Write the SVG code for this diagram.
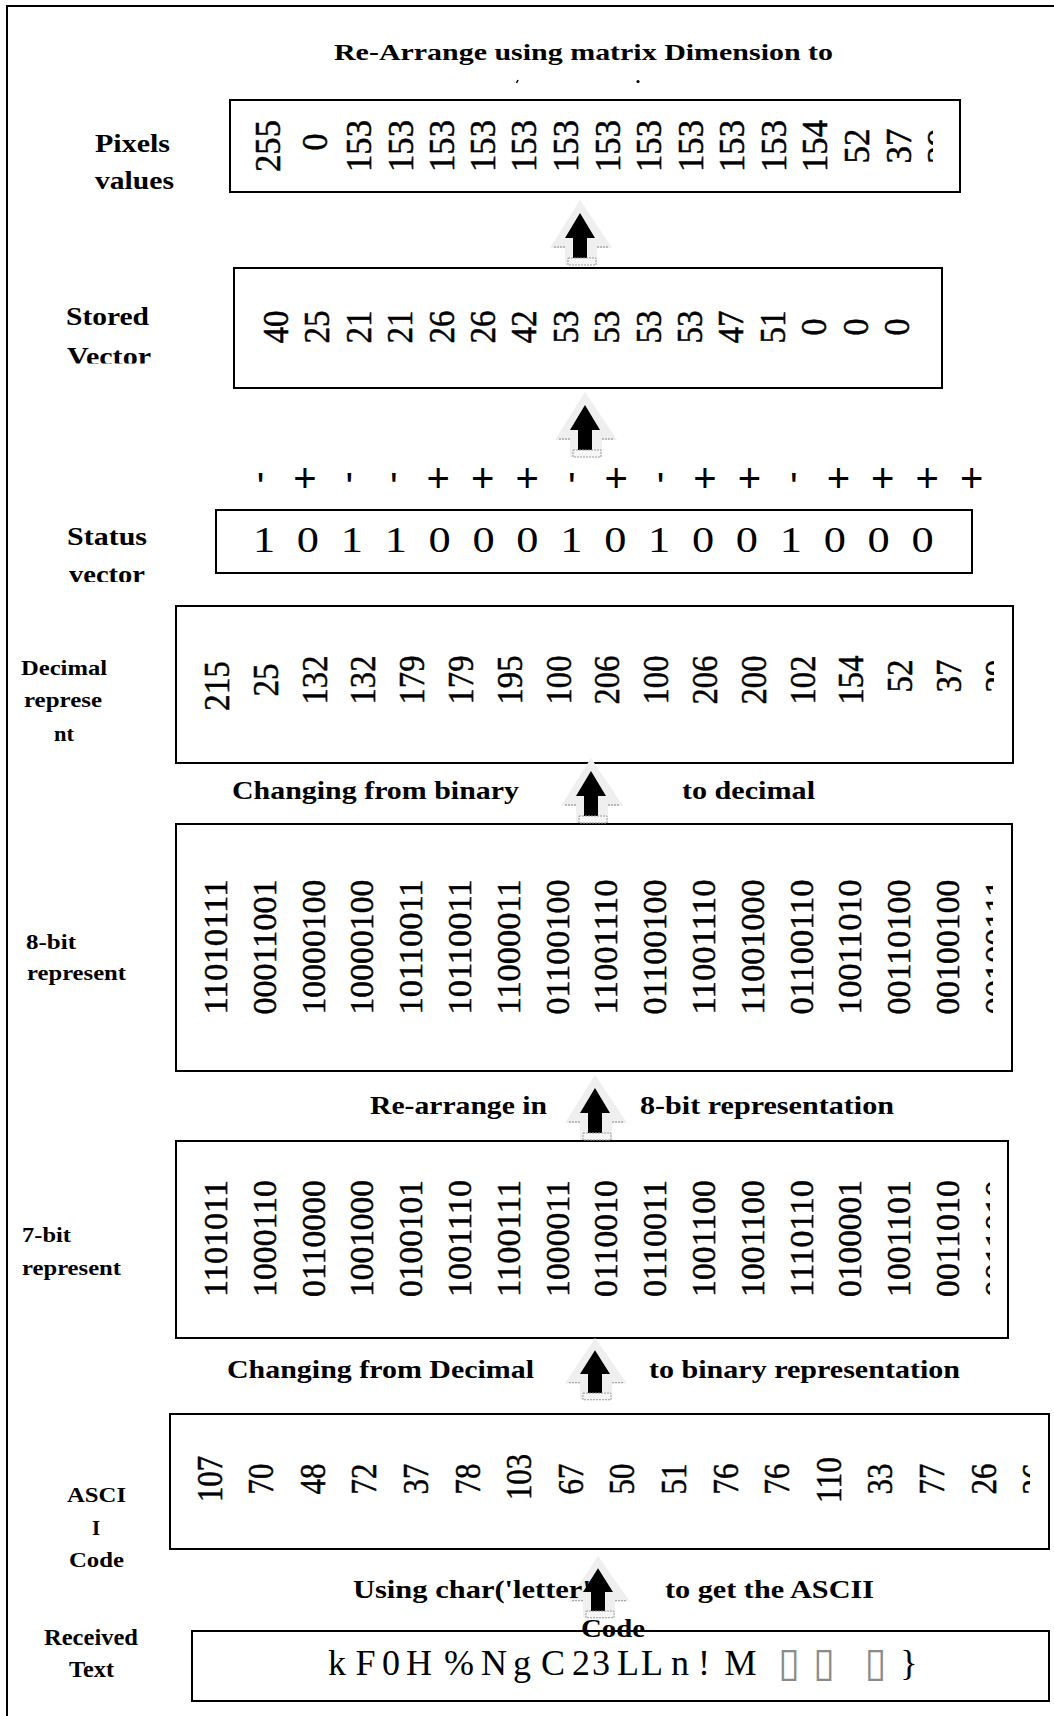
<svg xmlns="http://www.w3.org/2000/svg" xmlns:xlink="http://www.w3.org/1999/xlink" width="1054" height="1716" viewBox="0 0 1054 1716">
<style>
.box{fill:#fff;stroke:#000;stroke-width:2}
.lbl{font-family:"Liberation Serif","Times New Roman",serif;font-weight:bold;fill:#000}
.l25{font-size:25px}
.l22{font-size:22px}
.num{font-family:"Liberation Serif","Times New Roman",serif;font-size:35px;text-anchor:middle;fill:#000;stroke:#000;stroke-width:0.5}
.bin{font-family:"Liberation Serif","Times New Roman",serif;font-size:34px;text-anchor:middle;fill:#000;stroke:#000;stroke-width:0.5}
.sign{font-family:"Liberation Sans",Arial,sans-serif;font-size:40px;text-anchor:middle;fill:#000}
</style>
<defs>
<g id="arrow">
<path d="M0,0 L32,48 L17,48 L17,65 L-15,65 L-15,48 L-30,48 Z" fill="#efefef"/>
<path d="M0,13 L15,38 L7,38 L7,58 L-7,58 L-7,38 L-15,38 Z" fill="#000"/>
<rect x="-12" y="58" width="28" height="7" fill="#f6f6f6" stroke="#999" stroke-width="1" stroke-dasharray="2,1"/>
<path d="M-26,47 H-15 M17,47 H28" stroke="#aaa" stroke-width="1.5" stroke-dasharray="2,1"/>
</g>
<clipPath id="cpPix"><rect x="0" y="0" width="933" height="1716"/></clipPath>
<clipPath id="cpDec"><rect x="0" y="0" width="994" height="1716"/></clipPath>
<clipPath id="cp8"><rect x="0" y="0" width="993" height="1716"/></clipPath>
<clipPath id="cp7"><rect x="0" y="0" width="990" height="1716"/></clipPath>
<clipPath id="cpAsc"><rect x="0" y="0" width="1030" height="1716"/></clipPath>
<clipPath id="cpVec1"><rect x="0" y="0" width="1054" height="363.5"/></clipPath>
<clipPath id="cpVec2"><rect x="0" y="0" width="1054" height="582"/></clipPath>
</defs>
<rect x="7" y="6" width="1200" height="1800" fill="#fff" stroke="#000" stroke-width="2"/>

<g id="title">
<text class="lbl" x="334" y="60" font-size="23" textLength="499" lengthAdjust="spacingAndGlyphs">Re-Arrange using matrix Dimension to</text>
<path d="M516.5,83 L518,80" stroke="#000" stroke-width="1.5"/>
<circle cx="638" cy="81.5" r="1.6" fill="#000"/>
</g>

<g id="pixels">
<rect class="box" x="230" y="100" width="730" height="92"/>
<text class="lbl l25" x="95" y="152" textLength="75" lengthAdjust="spacingAndGlyphs">Pixels</text>
<text class="lbl l25" x="95" y="189" textLength="79" lengthAdjust="spacingAndGlyphs">values</text>
<g clip-path="url(#cpPix)">
<text class="num" transform="translate(279.5,146) rotate(-90)" textLength="52" lengthAdjust="spacingAndGlyphs">255</text>
<text class="num" transform="translate(326.5,142) rotate(-90)" textLength="17" lengthAdjust="spacingAndGlyphs">0</text>
<text class="num" transform="translate(370.5,146) rotate(-90)" textLength="52" lengthAdjust="spacingAndGlyphs">153</text>
<text class="num" transform="translate(412.5,146) rotate(-90)" textLength="52" lengthAdjust="spacingAndGlyphs">153</text>
<text class="num" transform="translate(453.5,146) rotate(-90)" textLength="52" lengthAdjust="spacingAndGlyphs">153</text>
<text class="num" transform="translate(494.5,146) rotate(-90)" textLength="52" lengthAdjust="spacingAndGlyphs">153</text>
<text class="num" transform="translate(535.5,146) rotate(-90)" textLength="52" lengthAdjust="spacingAndGlyphs">153</text>
<text class="num" transform="translate(577.5,146) rotate(-90)" textLength="52" lengthAdjust="spacingAndGlyphs">153</text>
<text class="num" transform="translate(619.5,146) rotate(-90)" textLength="52" lengthAdjust="spacingAndGlyphs">153</text>
<text class="num" transform="translate(660.5,146) rotate(-90)" textLength="52" lengthAdjust="spacingAndGlyphs">153</text>
<text class="num" transform="translate(702.5,146) rotate(-90)" textLength="52" lengthAdjust="spacingAndGlyphs">153</text>
<text class="num" transform="translate(743.5,146) rotate(-90)" textLength="52" lengthAdjust="spacingAndGlyphs">153</text>
<text class="num" transform="translate(785.5,146) rotate(-90)" textLength="52" lengthAdjust="spacingAndGlyphs">153</text>
<text class="num" transform="translate(826.5,146) rotate(-90)" textLength="52" lengthAdjust="spacingAndGlyphs">154</text>
<text class="num" transform="translate(868.5,146) rotate(-90)" textLength="35" lengthAdjust="spacingAndGlyphs">52</text>
<text class="num" transform="translate(910.5,146) rotate(-90)" textLength="35" lengthAdjust="spacingAndGlyphs">37</text>
<text class="num" transform="translate(951.5,146) rotate(-90)" textLength="35" lengthAdjust="spacingAndGlyphs">39</text>
</g>
</g>

<g id="stored">
<rect class="box" x="234" y="268" width="708" height="120"/>
<text class="lbl l25" x="66" y="325" textLength="83" lengthAdjust="spacingAndGlyphs">Stored</text>
<text class="lbl l25" x="67" y="365" textLength="84" lengthAdjust="spacingAndGlyphs" clip-path="url(#cpVec1)">Vector</text>
<text class="num" transform="translate(287.5,327) rotate(-90)" textLength="33" lengthAdjust="spacingAndGlyphs">40</text>
<text class="num" transform="translate(328.5,327) rotate(-90)" textLength="33" lengthAdjust="spacingAndGlyphs">25</text>
<text class="num" transform="translate(370.5,327) rotate(-90)" textLength="33" lengthAdjust="spacingAndGlyphs">21</text>
<text class="num" transform="translate(411.5,327) rotate(-90)" textLength="33" lengthAdjust="spacingAndGlyphs">21</text>
<text class="num" transform="translate(453.5,327) rotate(-90)" textLength="33" lengthAdjust="spacingAndGlyphs">26</text>
<text class="num" transform="translate(494.5,327) rotate(-90)" textLength="33" lengthAdjust="spacingAndGlyphs">26</text>
<text class="num" transform="translate(535.5,327) rotate(-90)" textLength="33" lengthAdjust="spacingAndGlyphs">42</text>
<text class="num" transform="translate(577.5,327) rotate(-90)" textLength="33" lengthAdjust="spacingAndGlyphs">53</text>
<text class="num" transform="translate(618.5,327) rotate(-90)" textLength="33" lengthAdjust="spacingAndGlyphs">53</text>
<text class="num" transform="translate(660.5,327) rotate(-90)" textLength="33" lengthAdjust="spacingAndGlyphs">53</text>
<text class="num" transform="translate(701.5,327) rotate(-90)" textLength="33" lengthAdjust="spacingAndGlyphs">53</text>
<text class="num" transform="translate(742.5,327) rotate(-90)" textLength="33" lengthAdjust="spacingAndGlyphs">47</text>
<text class="num" transform="translate(784.5,327) rotate(-90)" textLength="33" lengthAdjust="spacingAndGlyphs">51</text>
<text class="num" transform="translate(825.5,327) rotate(-90)" textLength="17" lengthAdjust="spacingAndGlyphs">0</text>
<text class="num" transform="translate(867.5,327) rotate(-90)" textLength="17" lengthAdjust="spacingAndGlyphs">0</text>
<text class="num" transform="translate(908.5,327) rotate(-90)" textLength="17" lengthAdjust="spacingAndGlyphs">0</text>
</g>

<g id="signs">
<text class="sign"><tspan x="260.5" y="501">'</tspan><tspan x="305" y="492">+</tspan><tspan x="349.4" y="501">'</tspan><tspan x="393.9" y="501">'</tspan><tspan x="438.3" y="492">+</tspan><tspan x="482.8" y="492">+</tspan><tspan x="527.2" y="492">+</tspan><tspan x="571.7" y="501">'</tspan><tspan x="616.1" y="492">+</tspan><tspan x="660.6" y="501">'</tspan><tspan x="705" y="492">+</tspan><tspan x="749.5" y="492">+</tspan><tspan x="793.9" y="501">'</tspan><tspan x="838.4" y="492">+</tspan><tspan x="882.8" y="492">+</tspan><tspan x="927.3" y="492">+</tspan><tspan x="971.7" y="492">+</tspan></text>
</g>

<g id="status">
<rect class="box" x="216" y="510" width="756" height="63"/>
<text class="lbl l25" x="67" y="545" textLength="80" lengthAdjust="spacingAndGlyphs">Status</text>
<text class="lbl l25" x="69" y="583" textLength="76" lengthAdjust="spacingAndGlyphs" clip-path="url(#cpVec2)">vector</text>
<text transform="scale(1.25,1)" y="552" style="font-family:'Liberation Serif','Times New Roman',serif;font-size:35.5px;text-anchor:middle" x="211.2 228.75 246.3 263.85 281.4 299 316.6 334.15 351.7 369.25 386.8 404.35 421.9 439.45 457 474.6 492.2 509.75 527.3 544.85 562.4 579.95 597.5 615.05 632.6 650.2 667.8 685.35 702.9 720.45 738">1 0 1 1 0 0 0 1 0 1 0 0 1 0 0 0</text>
</g>

<g id="decimal">
<rect class="box" x="176" y="606" width="837" height="157"/>
<text class="lbl l22" x="21" y="675" textLength="86" lengthAdjust="spacingAndGlyphs">Decimal</text>
<text class="lbl l22" x="24" y="707" textLength="78" lengthAdjust="spacingAndGlyphs">represe</text>
<text class="lbl l22" x="54" y="741" textLength="20" lengthAdjust="spacingAndGlyphs">nt</text>
<g clip-path="url(#cpDec)">
<text class="num" transform="translate(228.5,686) rotate(-90)" textLength="50" lengthAdjust="spacingAndGlyphs">215</text>
<text class="num" transform="translate(277.5,680) rotate(-90)" textLength="33" lengthAdjust="spacingAndGlyphs">25</text>
<text class="num" transform="translate(326.5,680) rotate(-90)" textLength="49" lengthAdjust="spacingAndGlyphs">132</text>
<text class="num" transform="translate(374.5,680) rotate(-90)" textLength="49" lengthAdjust="spacingAndGlyphs">132</text>
<text class="num" transform="translate(423.5,680) rotate(-90)" textLength="49" lengthAdjust="spacingAndGlyphs">179</text>
<text class="num" transform="translate(472.5,680) rotate(-90)" textLength="49" lengthAdjust="spacingAndGlyphs">179</text>
<text class="num" transform="translate(521.5,680) rotate(-90)" textLength="49" lengthAdjust="spacingAndGlyphs">195</text>
<text class="num" transform="translate(570.5,680) rotate(-90)" textLength="49" lengthAdjust="spacingAndGlyphs">100</text>
<text class="num" transform="translate(618.5,680) rotate(-90)" textLength="49" lengthAdjust="spacingAndGlyphs">206</text>
<text class="num" transform="translate(667.5,680) rotate(-90)" textLength="49" lengthAdjust="spacingAndGlyphs">100</text>
<text class="num" transform="translate(716.5,680) rotate(-90)" textLength="49" lengthAdjust="spacingAndGlyphs">206</text>
<text class="num" transform="translate(765.5,680) rotate(-90)" textLength="49" lengthAdjust="spacingAndGlyphs">200</text>
<text class="num" transform="translate(814.5,680) rotate(-90)" textLength="49" lengthAdjust="spacingAndGlyphs">102</text>
<text class="num" transform="translate(862.5,680) rotate(-90)" textLength="49" lengthAdjust="spacingAndGlyphs">154</text>
<text class="num" transform="translate(911.5,676) rotate(-90)" textLength="33" lengthAdjust="spacingAndGlyphs">52</text>
<text class="num" transform="translate(960.5,676) rotate(-90)" textLength="33" lengthAdjust="spacingAndGlyphs">37</text>
<text class="num" transform="translate(1009.5,676) rotate(-90)" textLength="33" lengthAdjust="spacingAndGlyphs">39</text>
</g>
</g>

<g id="bit8">
<rect class="box" x="176" y="824" width="836" height="247"/>
<text class="lbl l22" x="26" y="949" textLength="50" lengthAdjust="spacingAndGlyphs">8-bit</text>
<text class="lbl l22" x="27" y="980" textLength="99" lengthAdjust="spacingAndGlyphs">represent</text>
<g clip-path="url(#cp8)">
<text class="bin" transform="translate(227,947) rotate(-90)" textLength="135" lengthAdjust="spacingAndGlyphs">11010111</text>
<text class="bin" transform="translate(275.8,947) rotate(-90)" textLength="135" lengthAdjust="spacingAndGlyphs">00011001</text>
<text class="bin" transform="translate(324.6,947) rotate(-90)" textLength="135" lengthAdjust="spacingAndGlyphs">10000100</text>
<text class="bin" transform="translate(373.4,947) rotate(-90)" textLength="135" lengthAdjust="spacingAndGlyphs">10000100</text>
<text class="bin" transform="translate(422.2,947) rotate(-90)" textLength="135" lengthAdjust="spacingAndGlyphs">10110011</text>
<text class="bin" transform="translate(471,947) rotate(-90)" textLength="135" lengthAdjust="spacingAndGlyphs">10110011</text>
<text class="bin" transform="translate(519.8,947) rotate(-90)" textLength="135" lengthAdjust="spacingAndGlyphs">11000011</text>
<text class="bin" transform="translate(568.6,947) rotate(-90)" textLength="135" lengthAdjust="spacingAndGlyphs">01100100</text>
<text class="bin" transform="translate(617.4,947) rotate(-90)" textLength="135" lengthAdjust="spacingAndGlyphs">11001110</text>
<text class="bin" transform="translate(666.2,947) rotate(-90)" textLength="135" lengthAdjust="spacingAndGlyphs">01100100</text>
<text class="bin" transform="translate(715,947) rotate(-90)" textLength="135" lengthAdjust="spacingAndGlyphs">11001110</text>
<text class="bin" transform="translate(763.8,947) rotate(-90)" textLength="135" lengthAdjust="spacingAndGlyphs">11001000</text>
<text class="bin" transform="translate(812.6,947) rotate(-90)" textLength="135" lengthAdjust="spacingAndGlyphs">01100110</text>
<text class="bin" transform="translate(861.4,947) rotate(-90)" textLength="135" lengthAdjust="spacingAndGlyphs">10011010</text>
<text class="bin" transform="translate(910.2,947) rotate(-90)" textLength="135" lengthAdjust="spacingAndGlyphs">00110100</text>
<text class="bin" transform="translate(959,947) rotate(-90)" textLength="135" lengthAdjust="spacingAndGlyphs">00100100</text>
<text class="bin" transform="translate(1007.8,947) rotate(-90)" textLength="135" lengthAdjust="spacingAndGlyphs">00100111</text>
</g>
</g>

<g id="bit7">
<rect class="box" x="176" y="1141" width="832" height="197"/>
<text class="lbl l22" x="22" y="1242" textLength="49" lengthAdjust="spacingAndGlyphs">7-bit</text>
<text class="lbl l22" x="22" y="1275" textLength="99" lengthAdjust="spacingAndGlyphs">represent</text>
<g clip-path="url(#cp7)">
<text class="bin" transform="translate(227,1238.5) rotate(-90)" textLength="117" lengthAdjust="spacingAndGlyphs">1101011</text>
<text class="bin" transform="translate(275.8,1238.5) rotate(-90)" textLength="117" lengthAdjust="spacingAndGlyphs">1000110</text>
<text class="bin" transform="translate(324.6,1238.5) rotate(-90)" textLength="117" lengthAdjust="spacingAndGlyphs">0110000</text>
<text class="bin" transform="translate(373.4,1238.5) rotate(-90)" textLength="117" lengthAdjust="spacingAndGlyphs">1001000</text>
<text class="bin" transform="translate(422.2,1238.5) rotate(-90)" textLength="117" lengthAdjust="spacingAndGlyphs">0100101</text>
<text class="bin" transform="translate(471,1238.5) rotate(-90)" textLength="117" lengthAdjust="spacingAndGlyphs">1001110</text>
<text class="bin" transform="translate(519.8,1238.5) rotate(-90)" textLength="117" lengthAdjust="spacingAndGlyphs">1100111</text>
<text class="bin" transform="translate(568.6,1238.5) rotate(-90)" textLength="117" lengthAdjust="spacingAndGlyphs">1000011</text>
<text class="bin" transform="translate(617.4,1238.5) rotate(-90)" textLength="117" lengthAdjust="spacingAndGlyphs">0110010</text>
<text class="bin" transform="translate(666.2,1238.5) rotate(-90)" textLength="117" lengthAdjust="spacingAndGlyphs">0110011</text>
<text class="bin" transform="translate(715,1238.5) rotate(-90)" textLength="117" lengthAdjust="spacingAndGlyphs">1001100</text>
<text class="bin" transform="translate(763.8,1238.5) rotate(-90)" textLength="117" lengthAdjust="spacingAndGlyphs">1001100</text>
<text class="bin" transform="translate(812.6,1238.5) rotate(-90)" textLength="117" lengthAdjust="spacingAndGlyphs">1110110</text>
<text class="bin" transform="translate(861.4,1238.5) rotate(-90)" textLength="117" lengthAdjust="spacingAndGlyphs">0100001</text>
<text class="bin" transform="translate(910.2,1238.5) rotate(-90)" textLength="117" lengthAdjust="spacingAndGlyphs">1001101</text>
<text class="bin" transform="translate(959,1238.5) rotate(-90)" textLength="117" lengthAdjust="spacingAndGlyphs">0011010</text>
<text class="bin" transform="translate(1007.8,1238.5) rotate(-90)" textLength="117" lengthAdjust="spacingAndGlyphs">0011010</text>
</g>
</g>

<g id="ascii">
<rect class="box" x="170" y="1414" width="879" height="135"/>
<text class="lbl" x="67" y="1502" font-size="21" textLength="59" lengthAdjust="spacingAndGlyphs">ASCI</text>
<text class="lbl" x="96" y="1535" font-size="21" text-anchor="middle">I</text>
<text class="lbl" x="69" y="1567" font-size="21" textLength="55" lengthAdjust="spacingAndGlyphs">Code</text>
<g clip-path="url(#cpAsc)">
<text class="num" transform="translate(221.5,1479) rotate(-90)" textLength="46" lengthAdjust="spacingAndGlyphs">107</text>
<text class="num" transform="translate(273.1,1479) rotate(-90)" textLength="31" lengthAdjust="spacingAndGlyphs">70</text>
<text class="num" transform="translate(324.7,1479) rotate(-90)" textLength="31" lengthAdjust="spacingAndGlyphs">48</text>
<text class="num" transform="translate(376.3,1479) rotate(-90)" textLength="31" lengthAdjust="spacingAndGlyphs">72</text>
<text class="num" transform="translate(427.9,1479) rotate(-90)" textLength="31" lengthAdjust="spacingAndGlyphs">37</text>
<text class="num" transform="translate(479.5,1479) rotate(-90)" textLength="31" lengthAdjust="spacingAndGlyphs">78</text>
<text class="num" transform="translate(531.1,1477) rotate(-90)" textLength="46" lengthAdjust="spacingAndGlyphs">103</text>
<text class="num" transform="translate(582.7,1479) rotate(-90)" textLength="31" lengthAdjust="spacingAndGlyphs">67</text>
<text class="num" transform="translate(634.3,1479) rotate(-90)" textLength="31" lengthAdjust="spacingAndGlyphs">50</text>
<text class="num" transform="translate(685.9,1479) rotate(-90)" textLength="31" lengthAdjust="spacingAndGlyphs">51</text>
<text class="num" transform="translate(737.5,1479) rotate(-90)" textLength="31" lengthAdjust="spacingAndGlyphs">76</text>
<text class="num" transform="translate(789.1,1479) rotate(-90)" textLength="31" lengthAdjust="spacingAndGlyphs">76</text>
<text class="num" transform="translate(840.7,1480) rotate(-90)" textLength="46" lengthAdjust="spacingAndGlyphs">110</text>
<text class="num" transform="translate(892.3,1479) rotate(-90)" textLength="31" lengthAdjust="spacingAndGlyphs">33</text>
<text class="num" transform="translate(943.9,1479) rotate(-90)" textLength="31" lengthAdjust="spacingAndGlyphs">77</text>
<text class="num" transform="translate(995.5,1479) rotate(-90)" textLength="31" lengthAdjust="spacingAndGlyphs">26</text>
<text class="num" transform="translate(1047.1,1479) rotate(-90)" textLength="31" lengthAdjust="spacingAndGlyphs">26</text>
</g>
</g>

<g id="received">
<rect class="box" x="192" y="1631" width="857" height="70"/>
<text class="lbl" x="44" y="1645" font-size="23" textLength="94" lengthAdjust="spacingAndGlyphs">Received</text>
<text class="lbl" x="69" y="1677" font-size="23" textLength="45" lengthAdjust="spacingAndGlyphs">Text</text>
<text y="1675" style="font-family:'Liberation Serif','Times New Roman',serif;font-size:36px;text-anchor:middle"><tspan x="337 351 365.5 378 391 405 419 439 459 476 494 508 522 537 553 567 581 591 601 614 628 640 652 666 680 692 704 724 745">k F 0 H % N g C 2 3 L L n ! M</tspan> <tspan x="789 806 824 852 880" y="1676" style="font-family:'DejaVu Sans',sans-serif;font-size:40px;fill:#8a8a8a">▯ ▯ ▯</tspan> <tspan x="909" y="1675">}</tspan></text>
</g>

<g id="connectors">
<use xlink:href="#arrow" transform="translate(580,200)"/>
<use xlink:href="#arrow" transform="translate(585,392)"/>
<use xlink:href="#arrow" transform="translate(591,758)"/>
<use xlink:href="#arrow" transform="translate(595,1075)"/>
<use xlink:href="#arrow" transform="translate(595,1338) scale(1,0.95)"/>
<use xlink:href="#arrow" transform="translate(598,1556) scale(1,0.95)"/>
</g>

<g id="edge-labels">
<text class="lbl l25" x="232" y="799" textLength="287" lengthAdjust="spacingAndGlyphs">Changing from binary</text>
<text class="lbl l25" x="682" y="799" textLength="133" lengthAdjust="spacingAndGlyphs">to decimal</text>
<text class="lbl l25" x="370" y="1114" textLength="177" lengthAdjust="spacingAndGlyphs">Re-arrange in</text>
<text class="lbl l25" x="640" y="1114" textLength="254" lengthAdjust="spacingAndGlyphs">8-bit representation</text>
<text class="lbl l25" x="227" y="1378" textLength="307" lengthAdjust="spacingAndGlyphs">Changing from Decimal</text>
<text class="lbl l25" x="649" y="1378" textLength="311" lengthAdjust="spacingAndGlyphs">to binary representation</text>
<text class="lbl l25" x="353" y="1598" textLength="248" lengthAdjust="spacingAndGlyphs">Using char('letter')</text>
<text class="lbl l25" x="665" y="1598" textLength="209" lengthAdjust="spacingAndGlyphs">to get the ASCII</text>
<text class="lbl l25" x="581" y="1637" textLength="64" lengthAdjust="spacingAndGlyphs">Code</text>
</g>
</svg>
